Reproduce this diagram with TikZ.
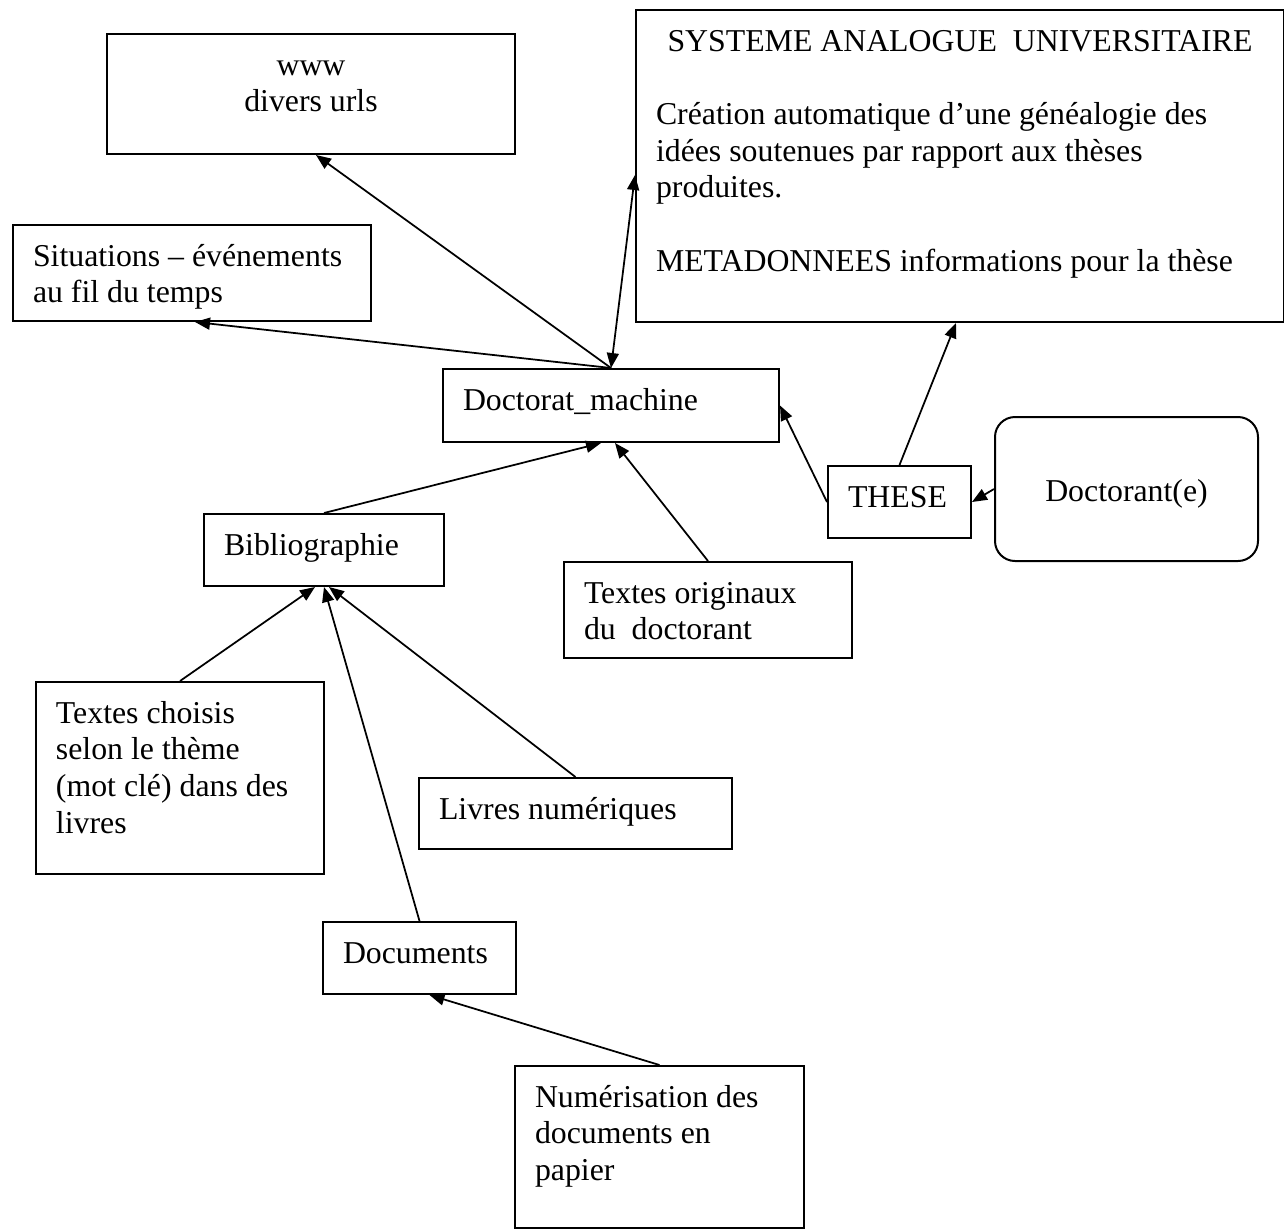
\documentclass[tikz,border=0pt]{standalone}
\usepackage{fontspec}
\setmainfont{Liberation Serif}
\usetikzlibrary{arrows.meta}

\begin{document}
\begin{tikzpicture}[
    >={Triangle[length=0.3cm, width=0.24cm]},
    box/.style={draw, line width=0.04cm, anchor=north west, align=flush left,
                inner xsep=0.4cm, inner ysep=0pt, text height=0.82cm,
                font=\fontsize{18.1}{20.9}\selectfont},
    roundbox/.style={draw, line width=0.04cm, rounded corners=0.4cm,
                minimum width=5.26cm, minimum height=2.88cm,
                text height=0.5cm, text depth=0pt,
                font=\fontsize{18.1}{20.9}\selectfont},
    arrow/.style={->, line width=0.035cm},
]
    \path[use as bounding box, fill=white] (0,0) rectangle (25.68,-24.58);

    % Top row
    \node[box, align=flush center, text width=7.36cm, text depth=1.58cm] (web) at (2.12,-0.66)
        {www\\divers urls};
    \node[box, text width=12.16cm, text depth=5.42cm] (sys) at (12.70,-0.18)
        {\makebox[\linewidth]{SYSTEME ANALOGUE\ \ UNIVERSITAIRE}\\[\baselineskip]
         Création automatique d’une généalogie des\\
         idées soutenues par rapport aux thèses\\
         produites.\\[\baselineskip]
         METADONNEES informations pour la thèse};
    \node[box, text width=6.36cm, text depth=1.10cm] (sit) at (0.24,-4.48)
        {Situations – événements\\au fil du temps};

    % Middle row
    \node[box, text width=5.92cm, text depth=0.64cm] (dm) at (8.84,-7.36) {Doctorat\_machine};
    \node[box, text width=2.06cm, text depth=0.62cm] (these) at (16.54,-9.30) {THESE};
    \node[roundbox] (doct) at (22.53,-9.78) {Doctorant(e)};
    \node[box, text width=4.00cm, text depth=0.62cm] (bib) at (4.06,-10.26) {Bibliographie};
    \node[box, text width=4.96cm, text depth=1.10cm] (orig) at (11.26,-11.22)
        {Textes originaux\\du\ \ doctorant};

    % Sources
    \node[box, text width=4.96cm, text depth=3.02cm] (chois) at (0.70,-13.62)
        {Textes choisis\\selon le thème\\(mot clé) dans des\\livres};
    \node[box, text width=5.46cm, text depth=0.60cm] (livres) at (8.36,-15.54) {Livres numériques};
    \node[box, text width=3.06cm, text depth=0.62cm] (docs) at (6.44,-18.42) {Documents};
    \node[box, text width=4.98cm, text depth=2.42cm] (num) at (10.28,-21.30)
        {Numérisation des\\documents en\\papier};

    % Arrows
    \draw[arrow] (dm.north) -- ([xshift=0.1cm]web.south);
    \draw[arrow] (dm.north) -- ([xshift=0.06cm]sit.south);
    \draw[arrow, <->] (dm.north) -- ([yshift=-0.18cm]sys.west);
    \draw[arrow] (bib.north) -- ([xshift=-0.2cm]dm.south);
    \draw[arrow] (orig.north) -- ([xshift=0.08cm]dm.south);
    \draw[arrow] (these.west) -- (dm.east);
    \draw[arrow] (these.north) -- ([xshift=-0.08cm]sys.south);
    \draw[arrow] (doct.west) -- (these.east);
    \draw[arrow] (chois.north) -- ([xshift=-0.18cm]bib.south);
    \draw[arrow] (docs.north) -- (bib.south);
    \draw[arrow] (livres.north) -- ([xshift=0.1cm]bib.south);
    \draw[arrow] (num.north) -- ([xshift=0.2cm]docs.south);
\end{tikzpicture}
\end{document}
